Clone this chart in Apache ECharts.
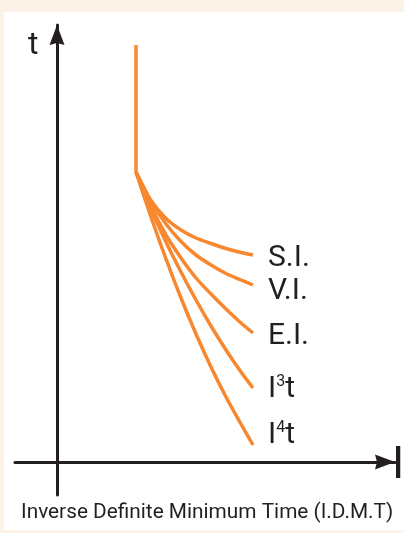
<!DOCTYPE html>
<html><head><meta charset="utf-8">
<script src="https://cdn.jsdelivr.net/npm/echarts@6/dist/echarts.min.js"></script>
<style>
html,body{margin:0;padding:0;background:#FDF2E7;width:404px;height:533px;overflow:hidden}
#chart{position:absolute;left:4px;top:12px;width:400px;height:518px;background:#ffffff}
</style></head><body><div id="chart"></div>
<script>
// Schematic units (x: current, y: time), origin at the axes' crossing
const curveNames = ['S.I.', 'V.I.', 'E.I.', 'I3t', 'I4t'];
const curveLabels = ['S.I.', 'V.I.', 'E.I.', '{b|I}{s|3}{b|t}', '{b|I}{s|4}{b|t}'];
const pickupLine = [[79, 417], [79, 290]];
const siCurve  = [[79, 290], [94, 261.5], [109, 243.5], [124, 232], [139, 224], [154, 218.5], [169, 213.5], [184, 209.5], [196, 207]];
const viCurve  = [[79, 290], [94, 260.5], [109, 238], [124, 220.5], [139, 207], [154, 197], [169, 188.5], [184, 182], [196, 177]];
const eiCurve  = [[79, 290], [94, 255.5], [109, 227], [124, 204], [139, 184], [154, 168], [169, 153], [184, 139], [196, 129]];
const i3tCurve = [[79, 290], [94, 253], [109, 220], [124, 190], [139, 162], [154, 136], [169, 112], [184, 90], [196, 74]];
const i4tCurve = [[79, 290], [94, 245], [109, 203], [124, 164], [139, 128], [154, 95], [169, 65], [184, 38], [196, 17]];
const xRange = [-42, 338];
const yRange = [-33, 437];
const yAxisTitle = 't';
const xAxisTitle = 'I';
const bottomTitle = 'Inverse Definite Minimum Time (I.D.M.T)';

const FONT = 'Roboto, "DejaVu Sans Condensed", sans-serif';
const INK = '#231F20';
const ORANGE = '#F7882F';
const curves = [siCurve, viCurve, eiCurve, i3tCurve, i4tCurve];
const labelDy = [3, 6, 3, 1, -10];
const arrow = 'path://M7.5,0L15,20L7.5,18L0,20Z';

const chart = echarts.init(document.getElementById('chart'), null, {renderer: 'canvas'});
const axisCommon = {
  type: 'value',
  axisLine: {onZero: true, lineStyle: {color: INK, width: 3}, symbol: ['none', arrow], symbolSize: [15, 20], symbolOffset: [0, -10]},
  axisTick: {show: false}, axisLabel: {show: false}, splitLine: {show: false}
};
const series = [{
  type: 'line', name: 'pickup', data: pickupLine, symbol: 'none', silent: true,
  lineStyle: {color: ORANGE, width: 3.5}
}];
curves.forEach((d, i) => {
  series.push({
    type: 'line', name: curveNames[i], data: d, symbol: 'none', silent: true,
    smooth: 0.3,
    lineStyle: {color: ORANGE, width: 3.5},
    endLabel: {
      show: true, formatter: curveLabels[i], offset: [7, labelDy[i]],
      fontFamily: FONT, fontSize: 30, lineHeight: 30, color: INK,
      rich: {
        b: {fontFamily: FONT, fontSize: 30, lineHeight: 30, color: INK},
        s: {fontFamily: FONT, fontSize: 16, lineHeight: 16, verticalAlign: 'top', color: INK}
      }
    }
  });
});
const titleStyle = {fontFamily: FONT, fontWeight: 'normal', color: INK};
chart.setOption({
  animation: false,
  title: [
    {text: yAxisTitle, left: 24, top: 18, padding: 0, textStyle: Object.assign({fontSize: 32}, titleStyle)},
    {text: xAxisTitle, left: 388, top: 432, padding: 0, textStyle: Object.assign({fontSize: 45}, titleStyle)},
    {text: bottomTitle, left: 17, top: 490, padding: 0, textStyle: Object.assign({fontSize: 20.8}, titleStyle)}
  ],
  grid: {left: 11, top: 13, width: 380, height: 470, containLabel: false, outerBoundsMode: 'none'},
  xAxis: Object.assign({}, axisCommon, {min: xRange[0], max: xRange[1]}),
  yAxis: Object.assign({}, axisCommon, {min: yRange[0], max: yRange[1]}),
  series: series
});
</script></body></html>
